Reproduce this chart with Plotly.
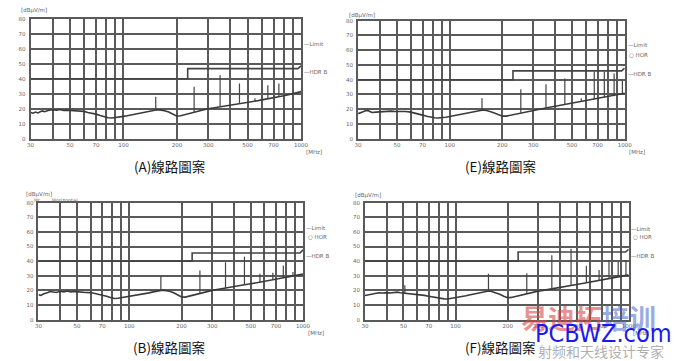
import numpy as np
import plotly.graph_objects as go

W, H = 674, 361

freq = [30, 31, 32, 33, 34, 35, 36, 38, 40, 42, 44, 46, 48, 50, 53, 56, 60, 63, 66, 70,
        74, 78, 82, 86, 90, 95, 100, 105, 110, 115, 120, 125, 130, 135, 140, 145, 150, 155,
        160, 165, 170, 180, 190, 200, 210, 220, 230, 240, 250, 265, 280, 300, 320, 340, 360,
        380, 400, 430, 460, 500, 530, 560, 600, 650, 700, 750, 800, 850, 900, 950, 1000]

level_A = [17.5, 17.0, 17.8, 17.2, 18.0, 18.5, 18.0, 19.0, 19.3, 19.0, 19.5, 18.8, 19.0, 18.8,
           18.5, 18.6, 18.2, 17.5, 17.2, 16.4, 15.5, 14.6, 14.0, 13.8, 14.0, 14.4, 14.9, 15.3,
           15.8, 16.2, 16.8, 17.0, 17.4, 17.8, 18.2, 18.5, 18.8, 19.3, 19.2, 19.0, 18.6, 17.8,
           16.3, 15.0, 15.3, 16.0, 16.6, 17.2, 17.8, 18.5, 19.2, 20.0, 20.5, 21.0, 21.4, 21.8,
           22.1, 22.7, 23.4, 24.1, 24.6, 25.2, 25.9, 26.8, 27.6, 28.2, 28.7, 29.3, 30.0, 30.7, 31.4]
level_E = [17.0, 17.5, 18.3, 19.0, 19.2, 18.5, 17.8, 18.0, 18.3, 18.5, 18.4, 18.7, 18.5, 18.6,
           18.3, 18.4, 18.0, 17.5, 16.8, 16.0, 15.2, 14.6, 14.2, 14.0, 14.1, 14.6, 15.0, 15.5,
           16.0, 16.4, 16.8, 17.2, 17.6, 18.0, 18.4, 18.8, 19.2, 19.5, 19.3, 19.0, 18.5, 17.5,
           16.2, 15.3, 15.3, 15.8, 16.3, 16.9, 17.4, 18.0, 18.7, 19.5, 20.0, 20.6, 21.0, 21.5,
           22.0, 22.5, 23.2, 23.9, 24.5, 25.0, 25.6, 26.4, 27.2, 27.8, 28.4, 29.0, 29.6, 30.2, 30.8]
level_B = [17.0, 16.6, 17.5, 17.8, 18.6, 19.2, 19.0, 18.6, 19.4, 19.0, 19.6, 19.0, 19.3, 19.0,
           18.8, 18.6, 18.5, 18.0, 17.6, 17.0, 16.0, 15.2, 14.5, 14.6, 15.0, 15.2, 15.5, 16.0,
           16.5, 17.0, 17.5, 17.9, 18.3, 18.8, 19.2, 19.6, 20.0, 20.2, 20.0, 19.8, 19.4, 18.4,
           16.8, 15.5, 15.4, 16.0, 16.8, 17.4, 18.0, 18.8, 19.4, 20.0, 20.6, 21.2, 21.7, 22.2,
           22.6, 23.2, 23.8, 24.5, 25.0, 25.5, 26.2, 27.0, 27.8, 28.4, 29.0, 29.6, 30.2, 30.7, 31.2]
level_F = [16.5, 16.8, 17.2, 17.5, 17.6, 18.0, 18.4, 18.2, 18.5, 18.2, 18.6, 18.8, 18.4, 18.2,
           18.0, 17.8, 17.5, 17.0, 16.6, 16.0, 15.4, 14.8, 14.4, 14.2, 14.1, 14.5, 15.0, 15.4,
           15.9, 16.3, 16.8, 17.2, 17.6, 18.0, 18.5, 18.9, 19.3, 19.6, 19.4, 19.0, 18.5, 17.4,
           16.0, 15.0, 15.2, 15.8, 16.4, 17.0, 17.5, 18.2, 18.8, 19.5, 20.0, 20.6, 21.1, 21.6,
           22.0, 22.6, 23.2, 24.0, 24.5, 25.0, 25.6, 26.4, 27.1, 27.8, 28.4, 29.0, 29.6, 30.1, 30.6]

spike_freq_A = [50, 152, 250, 350, 450, 550, 650, 750]
spike_top_A = [21.0, 28.0, 34.6, 42.3, 36.8, 27.0, 35.7, 36.8]
spike_freq_E = [153, 255, 355, 455, 565, 670, 765, 870, 970]
spike_top_E = [27.5, 33.5, 36.9, 40.9, 27.5, 45.4, 45.4, 44.2, 39.1]
spike_freq_B = [50, 152, 255, 358, 460, 565, 670, 770, 875]
spike_top_B = [21.0, 29.8, 33.6, 39.2, 43.0, 31.4, 32.0, 37.0, 32.5]
spike_freq_F = [51, 155, 258, 360, 465, 570, 675, 770, 870, 965]
spike_top_F = [23.6, 31.3, 31.8, 44.0, 48.4, 36.9, 34.0, 40.7, 39.6, 40.7]

limit_freq = [30, 230, 230, 960, 1000]
limit_A = [40, 40, 46.7, 46.7, 48.5]
limit_E = [40, 40, 46.0, 46.0, 47.8]
limit_B = [40, 40, 45.6, 45.6, 47.7]
limit_F = [40, 40, 46.2, 46.2, 48.0]

xtick_vals = [30, 50, 70, 100, 200, 300, 500, 700, 1000]
xtick_text = ["30", "50", "70", "100", "200", "300", "500", "700", "1000"]
minor_vals = [40, 60, 80, 90, 400, 600, 800, 900]
ytick_vals = [0, 10, 20, 30, 40, 50, 60, 70, 80]

captions = ["(A)線路圖案", "(E)線路圖案", "(B)線路圖案", "(F)線路圖案"]
legend_limit = [63.0, 63.2, 62.7, 62.2]
legend_hor = [None, 56.5, 56.7, 56.2]
legend_qp = [44.5, 43.6, 43.7, 43.6]

panels = [
    dict(lv=level_A, sf=spike_freq_A, st=spike_top_A, lim=limit_A, px=(27, 302), py=(16, 138), cap=(168, 166), unit=(15, 8)),
    dict(lv=level_E, sf=spike_freq_E, st=spike_top_E, lim=limit_E, px=(360, 631), py=(18, 138), cap=(505, 166), unit=(349, 13)),
    dict(lv=level_B, sf=spike_freq_B, st=spike_top_B, lim=limit_B, px=(35, 304), py=(203, 322), cap=(168, 350), unit=(20, 195)),
    dict(lv=level_F, sf=spike_freq_F, st=spike_top_F, lim=limit_F, px=(367, 635), py=(203, 322), cap=(505, 350), unit=(355, 196)),
]

GRID = "#5a5a5a"
TXT = "#666666"
fig = go.Figure()
layout = dict(width=W, height=H, margin=dict(l=0, r=0, t=0, b=0),
              paper_bgcolor="white", plot_bgcolor="white", showlegend=False)
annotations = []
logf = np.log10(freq)

for i, p in enumerate(panels):
    k = "" if i == 0 else str(i + 1)
    xa, ya = "x" + k, "y" + k
    fig.add_trace(go.Scatter(x=freq, y=p["lv"], mode="lines", xaxis=xa, yaxis=ya,
                             line=dict(color="#3a3a3a", width=1.6)))
    sx, sy = [], []
    for f, t in zip(p["sf"], p["st"]):
        b = float(np.interp(np.log10(f), logf, p["lv"]))
        sx += [f, f, None]
        sy += [b, t, None]
    fig.add_trace(go.Scatter(x=sx, y=sy, mode="lines", xaxis=xa, yaxis=ya,
                             line=dict(color="#444444", width=1.2)))
    fig.add_trace(go.Scatter(x=limit_freq, y=p["lim"], mode="lines", xaxis=xa, yaxis=ya,
                             line=dict(color="#444444", width=1.6)))
    x0, x1 = p["px"]
    y0, y1 = p["py"]
    layout["xaxis" + k] = dict(type="log", range=[np.log10(30), 3],
                               domain=[x0 / W, x1 / W], anchor=ya,
                               tickvals=xtick_vals, ticktext=xtick_text,
                               showgrid=True, gridcolor=GRID, gridwidth=1.8,
                               minor=dict(tickvals=minor_vals, showgrid=True, gridcolor=GRID, gridwidth=1.8, ticks=""),
                               showline=True, linecolor=GRID, linewidth=1.8, mirror=True,
                               ticks="", zeroline=False,
                               tickfont=dict(size=5.5, color=TXT, family="DejaVu Sans"))
    layout["yaxis" + k] = dict(range=[0, 80], domain=[1 - y1 / H, 1 - y0 / H], anchor=xa,
                               tickvals=ytick_vals, showgrid=True, gridcolor=GRID, gridwidth=1.8,
                               showline=True, linecolor=GRID, linewidth=1.8, mirror=True,
                               ticks="", zeroline=False, ticklabelstandoff=2,
                               tickfont=dict(size=5.5, color=TXT, family="DejaVu Sans"))
    annotations.append(dict(x=1.003, xref=xa + " domain", y=legend_limit[i], yref=ya,
                            text="—Limit", showarrow=False, xanchor="left",
                            font=dict(size=5.5, color=TXT, family="DejaVu Sans")))
    if legend_hor[i] is not None:
        annotations.append(dict(x=1.01, xref=xa + " domain", y=legend_hor[i], yref=ya,
                                text="○ HOR", showarrow=False, xanchor="left",
                                font=dict(size=5.5, color=TXT, family="DejaVu Sans")))
    annotations.append(dict(x=1.003, xref=xa + " domain", y=legend_qp[i], yref=ya,
                            text="—HDR B", showarrow=False, xanchor="left",
                            font=dict(size=5.5, color=TXT, family="DejaVu Sans")))
    annotations.append(dict(x=1.01, xref=xa + " domain", y=-0.07, yref=ya + " domain",
                            text="[MHz]", showarrow=False, xanchor="left", yanchor="top",
                            font=dict(size=5.5, color=TXT, family="DejaVu Sans")))
    ux, uy = p["unit"]
    annotations.append(dict(x=ux / W, xref="paper", y=1 - uy / H, yref="paper",
                            text="[dBμV/m]", showarrow=False, xanchor="left", yanchor="middle",
                            font=dict(size=5.5, color=TXT, family="DejaVu Sans")))
    cx, cy = p["cap"]
    annotations.append(dict(x=cx / W, xref="paper", y=1 - cy / H, yref="paper",
                            text=captions[i], showarrow=False, xanchor="center", yanchor="middle",
                            font=dict(size=13.5, color="#111111", family="Noto Sans CJK TC")))

annotations.append(dict(x=28 / W, xref="paper", y=1 - 200 / H, yref="paper", text="Hr",
                        showarrow=False, xanchor="left", font=dict(size=5, color=TXT, family="DejaVu Sans")))
annotations.append(dict(x=47 / W, xref="paper", y=1 - 200 / H, yref="paper", text="Horizontal",
                        showarrow=False, xanchor="left", font=dict(size=5, color=TXT, family="DejaVu Sans")))

annotations.append(dict(x=594 / W, xref="paper", y=1 - 320 / H, yref="paper",
                        text="<b><span style='color:rgba(215,70,70,0.6)'>易迪拓</span><span style='color:rgba(70,100,200,0.55)'>培训</span></b>",
                        showarrow=False, xanchor="center", yanchor="middle",
                        font=dict(size=27, family="Noto Sans CJK SC")))
annotations.append(dict(x=609 / W, xref="paper", y=1 - 336 / H, yref="paper", text="PCBWZ.com",
                        showarrow=False, xanchor="center", yanchor="middle",
                        font=dict(size=25, color="#1a1aee", family="Liberation Sans Narrow, DejaVu Sans Condensed")))
annotations.append(dict(x=607 / W, xref="paper", y=1 - 354 / H, yref="paper", text="射频和天线设计专家",
                        showarrow=False, xanchor="center", yanchor="middle",
                        font=dict(size=14, color="rgba(120,120,120,0.6)", family="Noto Sans CJK SC")))

layout["annotations"] = annotations
fig.update_layout(**layout)
fig.write_html("out.html", config={"displayModeBar": False},
               post_script="document.body.style.margin='0';document.body.style.overflow='hidden';")
